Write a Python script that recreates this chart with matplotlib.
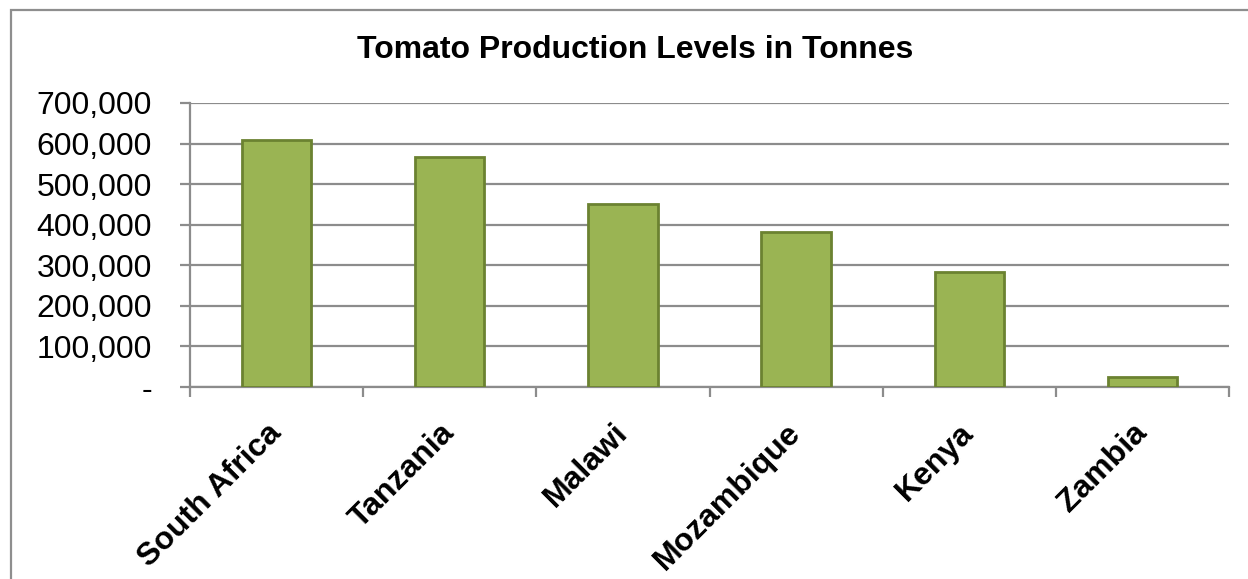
import matplotlib.pyplot as plt
from matplotlib.patches import Rectangle
from matplotlib.ticker import FuncFormatter, FixedLocator

plt.rcParams['font.family'] = ['Liberation Sans', 'DejaVu Sans']
plt.rcParams['hatch.linewidth'] = 1.5

countries = ["South Africa", "Tanzania", "Malawi", "Mozambique", "Kenya", "Zambia"]
tonnes = [610000, 566000, 450000, 381000, 283000, 24000]
y_ticks = [0, 100000, 200000, 300000, 400000, 500000, 600000, 700000]

GRID = '#8c8c8c'
BAR = '#8da646'
STRIPE = '#9ab453'
EDGE = '#6b8231'

W, H = 1248, 579
fig = plt.figure(figsize=(W / 100, H / 100), dpi=100)
ax = fig.add_axes([190 / W, 1 - 387 / H, (1229 - 190) / W, (387 - 103) / H])

# chart frame (right and bottom edges fall outside the canvas)
fig.patches.append(Rectangle((11 / W, -0.5), 2.0, 1.5 - 10 / H, transform=fig.transFigure,
                             fill=False, edgecolor='#8e8e8e', linewidth=1.6))

x = range(len(countries))
# striped fill, then the darker outline on top
ax.bar(x, tonnes, width=0.40, color=BAR, edgecolor=STRIPE, linewidth=0,
       hatch='\\' * 12, zorder=3)
ax.bar(x, tonnes, width=0.40, facecolor='none', edgecolor=EDGE, linewidth=2.0, zorder=4)

ax.set_xlim(-0.5, len(countries) - 0.5)
ax.set_ylim(0, 700000)
ax.set_yticks(y_ticks)
ax.yaxis.set_major_formatter(FuncFormatter(lambda v, p: '-' if v == 0 else f'{int(v):,}'))
ax.yaxis.grid(True, color=GRID, linewidth=1.6)
ax.set_axisbelow(True)

ax.set_xticks(list(x))
ax.set_xticklabels(countries, fontsize=23, fontweight='bold', rotation=45,
                   ha='right', va='center', rotation_mode='anchor')
ax.xaxis.set_minor_locator(FixedLocator([i - 0.5 for i in range(len(countries) + 1)]))
ax.tick_params(axis='x', which='major', length=0, pad=30)
ax.tick_params(axis='x', which='minor', length=7.2, width=1.6, color=GRID)
ax.tick_params(axis='y', labelsize=23, length=7.2, width=1.6, color=GRID, pad=20)

for side in ['top', 'right']:
    ax.spines[side].set_visible(False)
for side in ['left', 'bottom']:
    ax.spines[side].set_color(GRID)
    ax.spines[side].set_linewidth(1.6)

fig.text(635 / W, 1 - 50 / H, 'Tomato Production Levels in Tonnes', fontsize=23,
         fontweight='bold', ha='center', va='center')

fig.savefig('out.png', dpi=100)
